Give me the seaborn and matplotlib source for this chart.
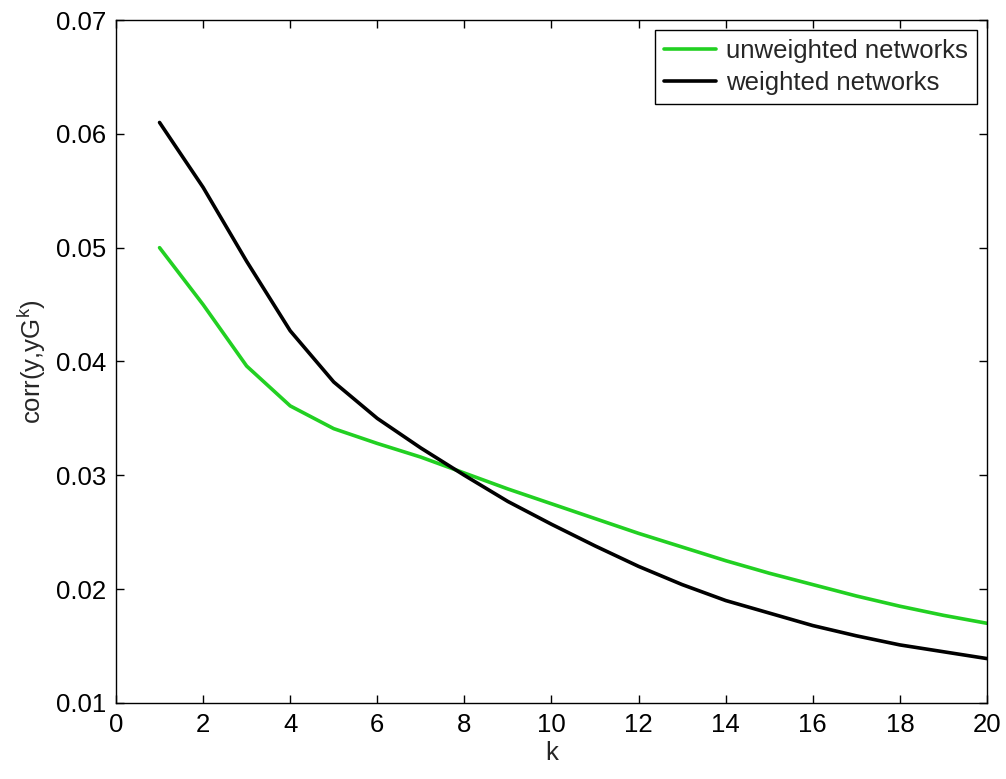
import matplotlib
matplotlib.use('Agg')
import matplotlib.pyplot as plt
import pandas as pd
import seaborn as sns
from matplotlib.ticker import FormatStrFormatter, MultipleLocator

# values
k = list(range(1, 21))
unweighted = [0.0500, 0.0450, 0.0396, 0.0361, 0.0341, 0.0328, 0.0316, 0.0302, 0.0288, 0.0275,
              0.0262, 0.0249, 0.0237, 0.0225, 0.0214, 0.0204, 0.0194, 0.0185, 0.0177, 0.0170]
weighted = [0.0610, 0.0553, 0.0488, 0.0427, 0.0382, 0.0350, 0.0324, 0.0300, 0.0277, 0.0257,
            0.0238, 0.0220, 0.0204, 0.0190, 0.0179, 0.0168, 0.0159, 0.0151, 0.0145, 0.0139]
series_names = ['unweighted networks', 'weighted networks']

df = pd.DataFrame({
    'k': k + k,
    'corr': unweighted + weighted,
    'network': [series_names[0]] * len(k) + [series_names[1]] * len(k),
})

sns.set_style('ticks')
plt.rcParams['font.family'] = ['Liberation Sans', 'DejaVu Sans']
plt.rcParams['mathtext.fontset'] = 'custom'
plt.rcParams['mathtext.rm'] = 'Liberation Sans'

fs = 18.5
fig = plt.figure(figsize=(10.06, 7.79), dpi=100)
ax = fig.add_axes([0.1153, 0.0976, 0.8658, 0.8767])

sns.lineplot(data=df, x='k', y='corr', hue='network', hue_order=series_names,
             palette={series_names[0]: '#22d022', series_names[1]: 'black'},
             linewidth=2.6, ax=ax)

ax.set_xlim(0, 20)
ax.set_ylim(0.01, 0.07)
ax.xaxis.set_major_locator(MultipleLocator(2))
ax.yaxis.set_major_locator(MultipleLocator(0.01))
ax.yaxis.set_major_formatter(FormatStrFormatter('%.2f'))
ax.tick_params(direction='in', length=6, width=1, top=True, right=True,
               labelsize=fs, colors='black', pad=7)
for s in ax.spines.values():
    s.set_linewidth(1)
    s.set_color('black')

ax.set_xlabel('k', fontsize=fs, labelpad=3)
ax.set_ylabel('corr(y,yG$^{\\mathregular{k}}$)', fontsize=fs, labelpad=6)

leg = ax.legend(loc='upper right', fontsize=fs, frameon=True, fancybox=False,
                edgecolor='black', framealpha=1, handlelength=2.0,
                handletextpad=0.4, borderaxespad=0.4, labelspacing=0.3,
                borderpad=0.35)
leg.get_frame().set_linewidth(1)

fig.savefig('out.png', dpi=100)
